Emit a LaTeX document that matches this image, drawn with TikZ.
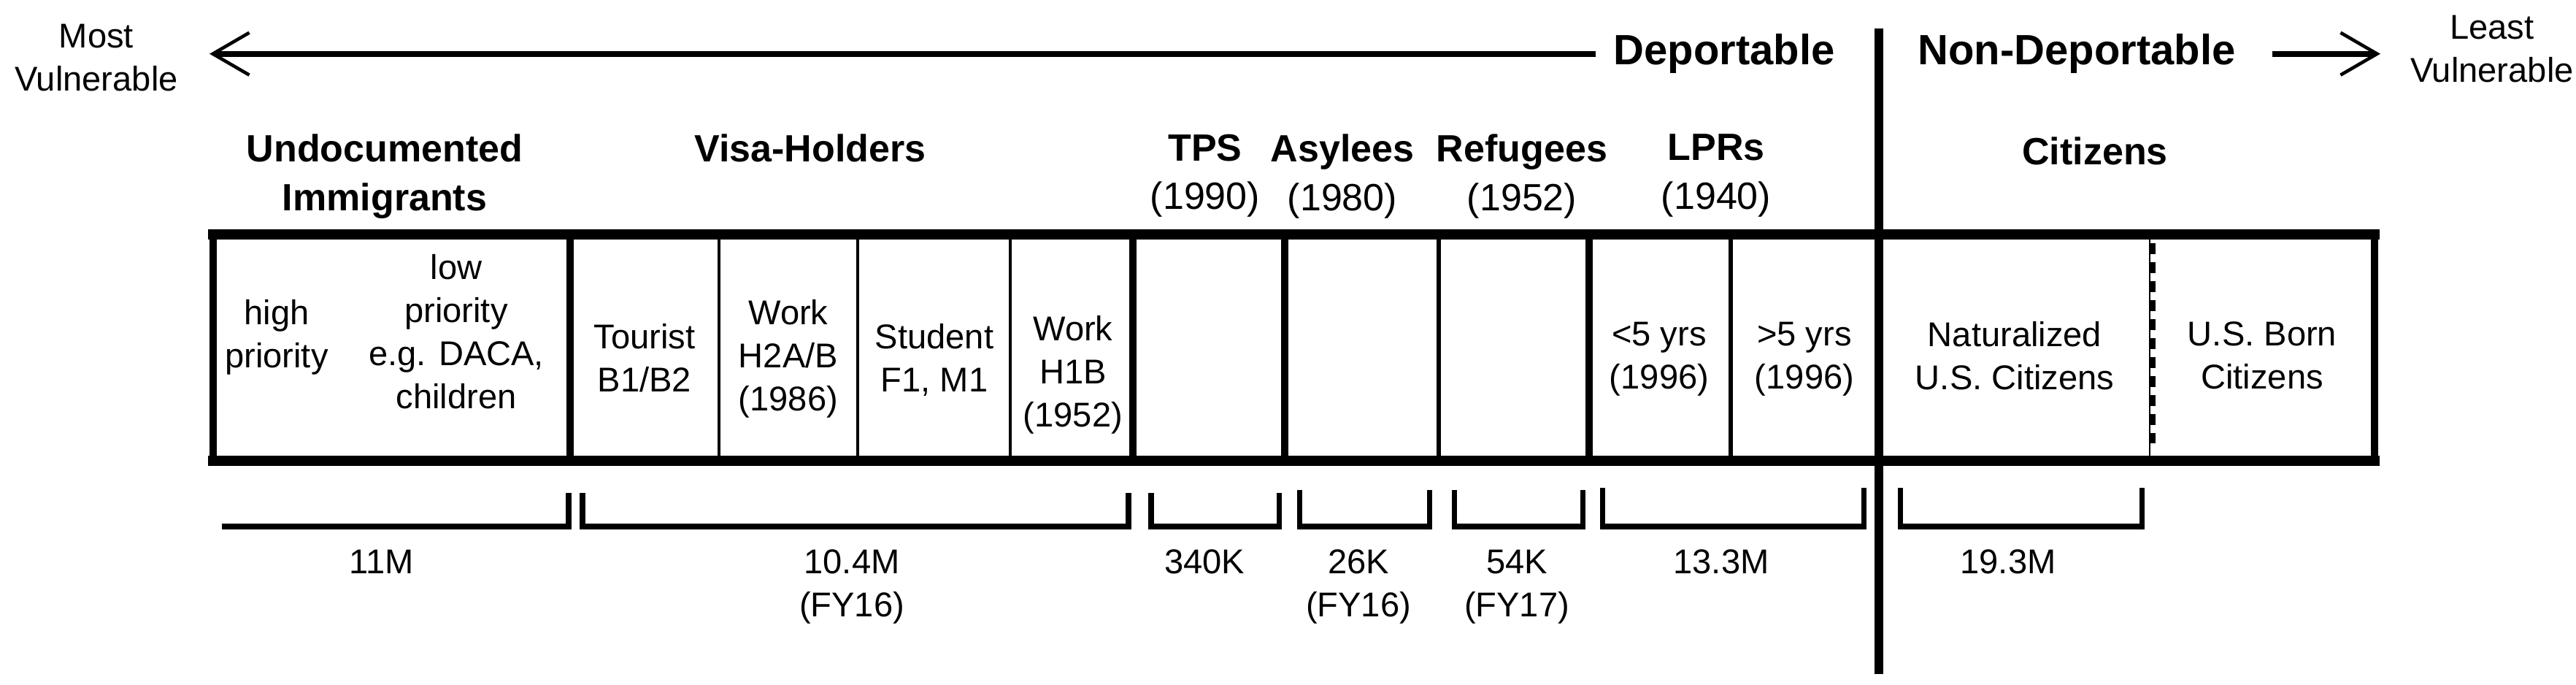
\documentclass[tikz,border=0pt]{standalone}
\usepackage{fontspec}
\setmainfont{Liberation Sans}
\usepackage{tikz}
\usetikzlibrary{arrows.meta}

\begin{document}
\begin{tikzpicture}[
    endtext/.style={font=\fontsize{13.4}{17}\selectfont, align=center, inner sep=0pt, anchor=north},
    status/.style={font=\fontsize{16.5}{20}\selectfont\bfseries, inner sep=0pt, anchor=north},
    group/.style={font=\fontsize{14.8}{19}\selectfont, align=center, inner sep=0pt, anchor=north},
    cell/.style={font=\fontsize{13.4}{16.8}\selectfont, align=center, inner sep=0pt, anchor=north},
    amount/.style={font=\fontsize{13.4}{16.8}\selectfont, align=center, inner sep=0pt, anchor=north},
    arrow/.style={-{Straight Barb[length=5mm, width=5.8mm, line width=1.3pt]}, line width=2.2pt},
    border/.style={line width=4pt, line cap=rect},
    divider/.style={line width=3pt},
    thindiv/.style={line width=1.3pt},
    bracket/.style={line width=2pt}
]
    \useasboundingbox (0,0) rectangle (35.29,-9.38);

    % Vulnerability scale
    \node[endtext] (most) at (1.32,-0.32) {Most\\Vulnerable};
    \node[endtext] (least) at (34.14,-0.20) {Least\\Vulnerable};
    \node[status] (deport) at (23.62,-0.46) {Deportable};
    \node[status] (nondeport) at (28.45,-0.46) {Non-Deportable};
    \coordinate (lefttip) at (2.87,-0.75);
    \coordinate (righttip) at (32.61,-0.76);
    \draw[arrow] ([xshift=-2.4mm]deport.west) -- (deport.west -| lefttip);
    \draw[arrow] ([xshift=5mm]nondeport.east) -- (nondeport.east -| righttip);

    % Groups
    \node[group] (undoc) at (5.27,-1.83) {\textbf{Undocumented}\\\textbf{Immigrants}};
    \node[group] (visa) at (11.10,-1.83) {\textbf{Visa-Holders}};
    \node[group] (tps) at (16.51,-1.83) {\textbf{TPS}\\(1990)};
    \node[group] (asylees) at (18.39,-1.83) {\textbf{Asylees}\\(1980)};
    \node[group] (refugees) at (20.85,-1.83) {\textbf{Refugees}\\(1952)};
    \node[group] (lprs) at (23.51,-1.83) {\textbf{LPRs}\\(1940)};
    \node[group] (citizens) at (28.70,-1.87) {\textbf{Citizens}};

    % Table
    \draw[divider] (2.92,-3.21) rectangle (32.53,-6.31);
    \draw[border] (2.92,-3.21) -- (32.53,-3.21);
    \draw[border] (2.92,-6.31) -- (32.53,-6.31);
    \draw[divider] (7.81,-3.21) -- (7.81,-6.31);
    \draw[thindiv] (9.85,-3.21) -- (9.85,-6.31);
    \draw[thindiv] (11.75,-3.21) -- (11.75,-6.31);
    \draw[thindiv] (13.84,-3.21) -- (13.84,-6.31);
    \draw[divider] (15.52,-3.21) -- (15.52,-6.31);
    \draw[divider] (17.60,-3.21) -- (17.60,-6.31);
    \draw[thindiv, line width=1.8pt] (19.71,-3.21) -- (19.71,-6.31);
    \draw[divider] (21.77,-3.21) -- (21.77,-6.31);
    \draw[thindiv, line width=1.8pt] (23.71,-3.21) -- (23.71,-6.31);
    \draw[line width=0.8pt] (29.45,-3.21) -- (29.45,-6.31);
    \draw[line width=2.4pt, dash pattern=on 1.5mm off 1.1mm] (29.49,-3.33) -- (29.49,-6.07);
    \draw[divider, line width=3.2pt] (25.74,-0.39) -- (25.74,-9.23);

    % Cells
    \node[cell] (high) at (3.79,-4.10) {high\\priority};
    \node[cell] (low) at (6.25,-3.48) {low\\priority\\e.g. DACA,\\children};
    \node[cell] (tourist) at (8.83,-4.43) {Tourist\\B1/B2};
    \node[cell] (workh2) at (10.80,-4.10) {Work\\H2A/B\\(1986)};
    \node[cell] (student) at (12.80,-4.43) {Student\\F1, M1};
    \node[cell] (workh1) at (14.70,-4.32) {Work\\H1B\\(1952)};
    \node[cell] (lprnew) at (22.73,-4.40) {<5 yrs\\(1996)};
    \node[cell] (lprold) at (24.72,-4.40) {>5 yrs\\(1996)};
    \node[cell] (natural) at (27.60,-4.40) {Naturalized\\U.S. Citizens};
    \node[cell] (usborn) at (30.99,-4.40) {U.S. Born\\Citizens};

    % Brackets
    \draw[bracket] (3.04,-7.21) -- (7.79,-7.21) -- (7.79,-6.75);
    \draw[bracket] (7.98,-6.75) -- (7.98,-7.21) -- (15.46,-7.21) -- (15.46,-6.75);
    \draw[bracket] (15.77,-6.75) -- (15.77,-7.21) -- (17.52,-7.21) -- (17.52,-6.75);
    \draw[bracket] (17.80,-6.71) -- (17.80,-7.21) -- (19.58,-7.21) -- (19.58,-6.71);
    \draw[bracket] (19.92,-6.71) -- (19.92,-7.21) -- (21.68,-7.21) -- (21.68,-6.71);
    \draw[bracket] (21.95,-6.68) -- (21.95,-7.21) -- (25.53,-7.21) -- (25.53,-6.68);
    \draw[bracket] (26.03,-6.68) -- (26.03,-7.21) -- (29.34,-7.21) -- (29.34,-6.68);

    % Counts
    \node[amount] (undoccount) at (5.23,-7.52) {11M};
    \node[amount] (visacount) at (11.67,-7.52) {10.4M\\(FY16)};
    \node[amount] (tpscount) at (16.50,-7.52) {340K};
    \node[amount] (asyleecount) at (18.61,-7.52) {26K\\(FY16)};
    \node[amount] (refugeecount) at (20.78,-7.52) {54K\\(FY17)};
    \node[amount] (lprcount) at (23.58,-7.52) {13.3M};
    \node[amount] (citizencount) at (27.51,-7.52) {19.3M};
\end{tikzpicture}
\end{document}
